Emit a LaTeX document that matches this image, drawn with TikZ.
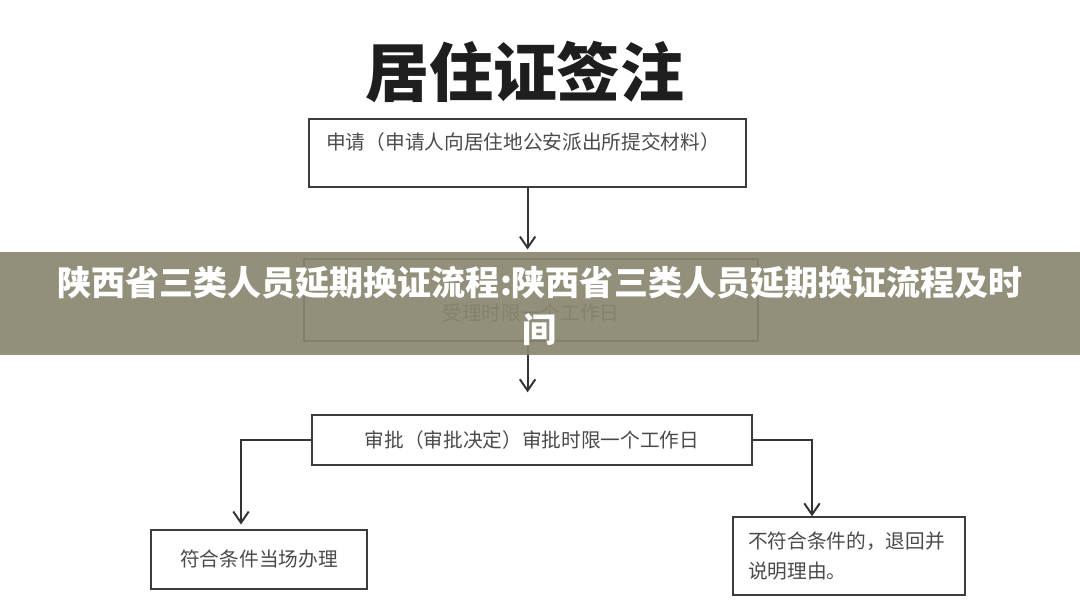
\documentclass[tikz,border=0pt]{standalone}
\usepackage{fontspec}
\newfontfamily\cjk{Noto Sans CJK SC}
\usepackage{tikz}
\usetikzlibrary{arrows.meta}

\definecolor{boxline}{RGB}{60,60,60}
\definecolor{boxtext}{RGB}{74,74,74}
\definecolor{titleink}{RGB}{30,30,30}
\definecolor{bandolive}{RGB}{137,134,112}

\tikzset{
  >={Straight Barb[length=8pt,width=11pt]},
  box/.style={draw=boxline, line width=1pt, inner sep=0pt},
  txt/.style={text=boxtext, font=\cjk\fontsize{14}{21}\selectfont},
  flow/.style={->, draw=black!80, line width=1.4pt}
}

\begin{document}
\begin{tikzpicture}
\useasboundingbox (0,0) rectangle (27,15.2);

\node [text=titleink, font=\cjk\bfseries\fontsize{45.5}{50}\selectfont] (title) at (13.125,13.4) {居住证签注};

\node [box, minimum width=10.925cm, minimum height=1.7cm] (apply) at (13.19,11.375) {}; \node [txt, anchor=west, inner sep=0pt] (applytext) at (8.15,11.65) {申请（申请人向居住地公安派出所提交材料）};
\node [box, minimum width=11.35cm, minimum height=2.05cm] (accept) at (13.275,7.7) {}; \node [txt] (accepttext) at (13.275,7.375) {受理时限一个工作日};
\node [box, txt, minimum width=11cm, minimum height=1.25cm] (approve) at (13.3,4.2) {审批（审批决定）审批时限一个工作日};
\node [box, txt, minimum width=5.4cm, minimum height=1.475cm] (ok) at (6.475,1.2125) {符合条件当场办理};
\node [box, txt, text width=5.05cm, inner xsep=0.375cm, align=left, minimum height=1.95cm] (no) at (21.225,1.3) {不符合条件的，退回并\\说明理由。};

\draw [flow, shorten >=0.22cm] (apply.south) -- (apply.south |- accept.north);
\draw [flow, shorten >=0.55cm] (accept.south -| apply.south) -- (approve.north -| apply.south);
\draw [flow, shorten >=0.12cm] (approve.west) -| ([xshift=-0.45cm]ok.north);
\draw [flow] (approve.east) -| ([xshift=-0.925cm]no.north);

% banner over the middle
\fill [bandolive, opacity=0.92] (0,6.325) rectangle (27,8.9);
\node [text=white, align=center, font=\cjk\bfseries\fontsize{24.2}{33.4}\selectfont] (banner) at (13.5,7.56) {陕西省三类人员延期换证流程:陕西省三类人员延期换证流程及时\\间};
\end{tikzpicture}
\end{document}
